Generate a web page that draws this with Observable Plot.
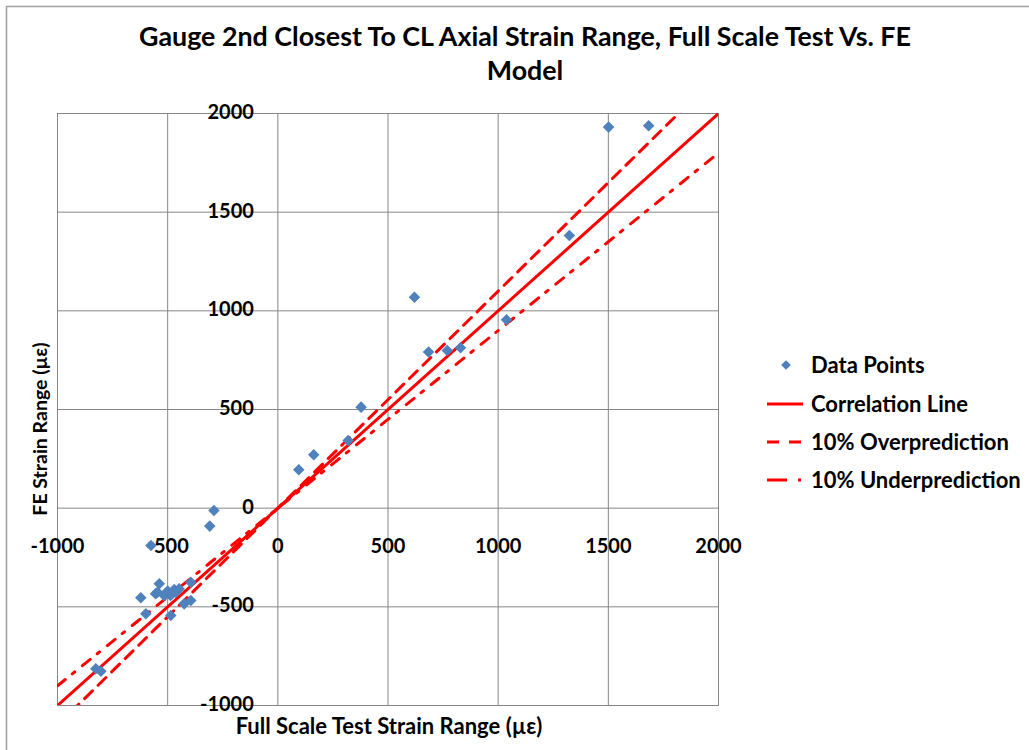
<!DOCTYPE html>
<html>
<head>
<meta charset="utf-8">
<script src="https://cdn.jsdelivr.net/npm/d3@7"></script>
<script src="https://cdn.jsdelivr.net/npm/@observablehq/plot@0.6"></script>
<style>
  html, body { margin: 0; padding: 0; background: #fff; }
  #chart { width: 1029px; height: 750px; }
</style>
</head>
<body>
<div id="chart"></div>
<script>
// Measured strain ranges (µε): full scale test vs. FE model
const testStrain = [-576, -290, -309, -622, -599, -538, -546, -516, -555, -487, -464, -448, -395, -486, -425, -395, -826, -803, -500, -470,
                    95, 163, 319, 378, 620, 684, 769, 829, 1038, 1323, 1501, 1683];
const feStrain   = [-189, -12, -91, -454, -535, -383, -426, -442, -434, -442, -426, -409, -375, -544, -485, -468, -814, -826, -420, -412,
                    195, 271, 343, 512, 1069, 791, 799, 813, 955, 1382, 1931, 1938];

// Reference lines: FE = ratio × test
const lineNames  = ["Correlation Line", "10% Overprediction", "10% Underprediction"];
const lineRatios = [1.0, 1.1, 0.9];
const lineDashes = [null, "11,8", "10,9,3,10"];
const lineExtent = [-1000, 2000];

const ticks = [-1000, -500, 0, 500, 1000, 1500, 2000];

const font = "Lato, 'Open Sans', sans-serif";
const red = "#ff0000";
const blue = "#4f81bd";
const gridColor = "#868686";

const points = testStrain.map((t, i) => ({test: t, fe: feStrain[i]}));
const refLines = lineNames.map((name, i) => ({
  name,
  dash: lineDashes[i],
  pts: lineExtent.map(x => ({x, y: x * lineRatios[i]}))
}));

const chart = Plot.plot({
  width: 1029,
  height: 750,
  marginLeft: 57,
  marginRight: 311,
  marginTop: 113,
  marginBottom: 45,
  x: {domain: [-1000, 2000], axis: null},
  y: {domain: [-1000, 2000], axis: null},
  style: {background: "#fff", fontFamily: font, overflow: "visible"},
  marks: [
    Plot.gridX(ticks, {stroke: gridColor, strokeOpacity: 1, strokeWidth: 1}),
    Plot.gridY(ticks, {stroke: gridColor, strokeOpacity: 1, strokeWidth: 1}),
    Plot.frame({stroke: gridColor, strokeWidth: 1}),
    // tick labels sit on the axes that cross at the origin
    Plot.text(ticks, {x: d => d, y: 0, dy: 38, text: d => String(d), fontSize: 20, fontWeight: "bold", fill: "#000"}),
    Plot.text(ticks, {x: 0, y: d => d, dx: -24, dy: -1, text: d => String(d), textAnchor: "end", fontSize: 20, fontWeight: "bold", fill: "#000"}),
    ...refLines.map(l => Plot.line(l.pts, {
      x: "x", y: "y", stroke: red, strokeWidth: 3,
      strokeDasharray: l.dash, clip: true
    })),
    Plot.dot(points, {x: "test", y: "fe", symbol: "diamond2", r: 5.2, fill: blue, stroke: "none"})
  ]
});

document.getElementById("chart").appendChild(chart);

const svg = d3.select(chart);

// outer chart border
svg.append("path")
  .attr("d", "M6.5,750 V6.5 H1029")
  .attr("fill", "none").attr("stroke", "#a0a0a0").attr("stroke-width", 1.5);

// title
const title = svg.append("text")
  .attr("text-anchor", "middle")
  .attr("font-family", font).attr("font-weight", "bold").attr("font-size", 26.8)
  .attr("fill", "#000");
title.append("tspan").attr("x", 525).attr("y", 46)
  .text("Gauge 2nd Closest To CL Axial Strain Range, Full Scale Test Vs. FE");
title.append("tspan").attr("x", 525).attr("y", 80).text("Model");

// axis titles
svg.append("text")
  .attr("x", 389).attr("y", 734)
  .attr("text-anchor", "middle")
  .attr("font-family", font).attr("font-weight", "bold").attr("font-size", 22)
  .text("Full Scale Test Strain Range (µε)");
svg.append("text")
  .attr("transform", "translate(47,429) rotate(-90)")
  .attr("text-anchor", "middle")
  .attr("font-family", font).attr("font-weight", "bold").attr("font-size", 19.5)
  .text("FE Strain Range (µε)");

// legend
const legend = svg.append("g");
const rowY = [365, 404, 442, 480];
legend.append("path")
  .attr("d", d3.symbol(d3.symbolDiamond2, 60)())
  .attr("transform", `translate(786,${rowY[0]})`)
  .attr("fill", blue);
const sampleDash = [null, "12,10", "20,11,3,10"];
for (let i = 0; i < 3; i++) {
  legend.append("line")
    .attr("x1", 767).attr("x2", 803)
    .attr("y1", rowY[i + 1]).attr("y2", rowY[i + 1])
    .attr("stroke", red).attr("stroke-width", 3)
    .attr("stroke-dasharray", sampleDash[i]);
}
["Data Points", ...lineNames].forEach((t, i) => {
  legend.append("text")
    .attr("x", 811).attr("y", rowY[i]).attr("dy", "0.35em")
    .attr("text-anchor", "start")
    .attr("font-family", font).attr("font-weight", "bold").attr("font-size", 22)
    .text(t);
});
</script>
</body>
</html>
